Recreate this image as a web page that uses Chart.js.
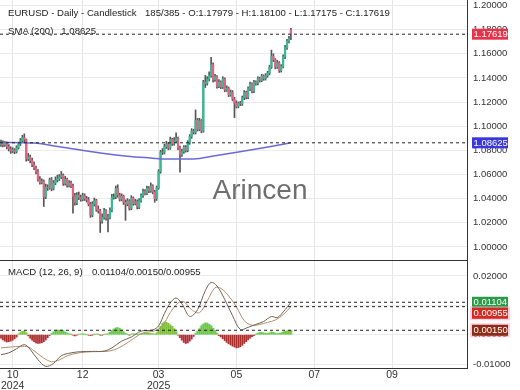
<!DOCTYPE html>
<html lang="en">
<head>
<meta charset="UTF-8" />
<title>EURUSD - Daily - Candlestick</title>
<script src="https://cdn.jsdelivr.net/npm/chart.js"></script>
<style>
  body { margin: 0; background: #fff; font-family: "Liberation Sans", Arial, sans-serif; }
  #wrap { position: relative; width: 520px; height: 390px; overflow: hidden; }
  #priceChart { position: absolute; left: 0; top: 0; }
  #macdChart { position: absolute; left: 0; top: 260px; }
  .txt { position: absolute; font-size: 9.6px; line-height: 12px; color: #222; white-space: pre; }
  #mark { position: absolute; left: 0; width: 520px; top: 174px; text-align: center; font-size: 28px; line-height: 32px; color: #6e6e6e; }
</style>
</head>
<body>
<div id="wrap">
  <canvas id="priceChart" width="520" height="260"></canvas>
  <canvas id="macdChart" width="520" height="130"></canvas>
  <div id="mark">Arincen</div>
  <div class="txt" id="t1" style="left:8px; top:7px;"></div>
  <div class="txt" id="t2" style="left:145px; top:7px;"></div>
  <div class="txt" id="t3" style="left:8px; top:25px;"></div>
  <div class="txt" id="t4" style="left:8px; top:266px;"></div>
  <div class="txt" id="t5" style="left:92px; top:266px;"></div>
</div>
<script>
  // ---- data ----
  const O = [
    1.0850,1.0862,1.0845,1.0858,1.0830,1.0812,1.0795,1.0803,1.0790,1.0822,
    1.0855,1.0880,1.0905,1.0890,1.0730,1.0745,1.0715,1.0680,1.0655,1.0625,
    1.0560,1.0535,1.0545,1.0415,1.0495,1.0490,1.0555,1.0485,1.0530,1.0555,
    1.0565,1.0580,1.0595,1.0525,1.0560,1.0510,1.0530,1.0505,1.0420,1.0365,
    1.0430,1.0410,1.0395,1.0425,1.0400,1.0390,1.0355,1.0265,1.0355,1.0385,
    1.0310,1.0300,1.0215,1.0245,1.0300,1.0240,1.0245,1.0305,1.0410,1.0415,
    1.0485,1.0430,1.0395,1.0420,1.0370,1.0355,1.0380,1.0320,1.0405,1.0360,
    1.0375,1.0330,1.0385,1.0425,1.0460,1.0445,1.0485,1.0465,1.0505,1.0455,
    1.0400,1.0490,1.0625,1.0785,1.0785,1.0830,1.0850,1.0820,1.0890,1.0855,
    1.0880,1.0900,1.0820,1.0765,1.0790,1.0825,1.0800,1.0865,1.0915,1.0960,
    1.0950,1.1050,1.0975,1.1045,1.0960,1.1365,1.1355,1.1390,1.1420,1.1510,
    1.1385,1.1410,1.1330,1.1365,1.1325,1.1390,1.1300,1.1315,1.1260,1.1280,
    1.1225,1.1190,1.1165,1.1190,1.1185,1.1235,1.1280,1.1240,1.1310,1.1350,
    1.1290,1.1365,1.1355,1.1395,1.1380,1.1415,1.1395,1.1420,1.1440,1.1490,
    1.1580,1.1550,1.1490,1.1525,1.1460,1.1495,1.1575,1.1650,1.1705,1.17979
  ];
  const H = [
    1.0885,1.0878,1.0872,1.0870,1.0848,1.0830,1.0822,1.0815,1.0838,1.0868,
    1.0898,1.0925,1.0937,1.0895,1.0775,1.0760,1.0735,1.0705,1.0670,1.0640,
    1.0582,1.0565,1.0555,1.0520,1.0515,1.0570,1.0575,1.0550,1.0580,1.0595,
    1.0600,1.0625,1.0605,1.0585,1.0570,1.0550,1.0545,1.0520,1.0445,1.0450,
    1.0455,1.0430,1.0445,1.0440,1.0420,1.0410,1.0370,1.0375,1.0405,1.0395,
    1.0340,1.0312,1.0275,1.0320,1.0310,1.0270,1.0325,1.0435,1.0440,1.0505,
    1.0515,1.0445,1.0440,1.0430,1.0390,1.0400,1.0392,1.0425,1.0415,1.0395,
    1.0390,1.0400,1.0440,1.0480,1.0475,1.0505,1.0500,1.0530,1.0515,1.0470,
    1.0505,1.0640,1.0800,1.0815,1.0850,1.0875,1.0865,1.0910,1.0900,1.0905,
    1.0945,1.0910,1.0835,1.0810,1.0840,1.0840,1.0880,1.0930,1.0980,1.0975,
    1.1135,1.1065,1.1065,1.1055,1.1380,1.1420,1.1410,1.1450,1.1570,1.1525,
    1.1430,1.1420,1.1385,1.1375,1.1410,1.1400,1.1335,1.1325,1.1300,1.1295,
    1.1240,1.1210,1.1200,1.1205,1.1250,1.1295,1.1290,1.1325,1.1365,1.1360,
    1.1380,1.1375,1.1410,1.1405,1.1430,1.1425,1.1435,1.1455,1.1505,1.1630,
    1.1600,1.1560,1.1545,1.1535,1.1510,1.1590,1.1670,1.1720,1.1745,1.18100
  ];
  const L = [
    1.0832,1.0828,1.0832,1.0812,1.0795,1.0775,1.0780,1.0772,1.0778,1.0810,
    1.0840,1.0868,1.0870,1.0710,1.0715,1.0695,1.0665,1.0640,1.0605,1.0545,
    1.0520,1.0522,1.0335,1.0400,1.0468,1.0478,1.0465,1.0472,1.0515,1.0538,
    1.0550,1.0565,1.0510,1.0512,1.0495,1.0498,1.0490,1.0280,1.0345,1.0350,
    1.0392,1.0378,1.0382,1.0385,1.0372,1.0340,1.0245,1.0250,1.0338,1.0295,
    1.0280,1.0120,1.0198,1.0230,1.0222,1.0125,1.0232,1.0290,1.0395,1.0400,
    1.0412,1.0380,1.0382,1.0352,1.0220,1.0340,1.0305,1.0308,1.0345,1.0348,
    1.0315,1.0318,1.0370,1.0410,1.0430,1.0432,1.0450,1.0452,1.0440,1.0370,
    1.0385,1.0478,1.0610,1.0765,1.0770,1.0815,1.0805,1.0808,1.0840,1.0842,
    1.0865,1.0805,1.0620,1.0750,1.0775,1.0785,1.0788,1.0850,1.0900,1.0935,
    1.0935,1.0960,1.0962,1.0945,1.0950,1.1320,1.1340,1.1375,1.1405,1.1365,
    1.1370,1.1315,1.1318,1.1310,1.1312,1.1285,1.1288,1.1245,1.1248,1.1210,
    1.1070,1.1150,1.1152,1.1170,1.1172,1.1220,1.1225,1.1228,1.1295,1.1275,
    1.1278,1.1340,1.1342,1.1365,1.1368,1.1380,1.1382,1.1405,1.1425,1.1478,
    1.1535,1.1475,1.1478,1.1445,1.1448,1.1482,1.1560,1.1635,1.1690,1.17175
  ];
  const C = [
    1.0862,1.0845,1.0858,1.0830,1.0812,1.0795,1.0803,1.0790,1.0822,1.0855,
    1.0880,1.0905,1.0890,1.0730,1.0745,1.0715,1.0680,1.0655,1.0625,1.0560,
    1.0535,1.0545,1.0415,1.0495,1.0490,1.0555,1.0485,1.0530,1.0555,1.0565,
    1.0580,1.0595,1.0525,1.0560,1.0510,1.0530,1.0505,1.0420,1.0365,1.0430,
    1.0410,1.0395,1.0425,1.0400,1.0390,1.0355,1.0265,1.0355,1.0385,1.0310,
    1.0300,1.0215,1.0245,1.0300,1.0240,1.0245,1.0305,1.0410,1.0415,1.0485,
    1.0430,1.0395,1.0420,1.0370,1.0355,1.0380,1.0320,1.0405,1.0360,1.0375,
    1.0330,1.0385,1.0425,1.0460,1.0445,1.0485,1.0465,1.0505,1.0455,1.0400,
    1.0490,1.0625,1.0785,1.0785,1.0830,1.0850,1.0820,1.0890,1.0855,1.0880,
    1.0900,1.0820,1.0765,1.0790,1.0825,1.0800,1.0865,1.0915,1.0960,1.0950,
    1.1050,1.0975,1.1045,1.0960,1.1365,1.1355,1.1390,1.1420,1.1510,1.1385,
    1.1410,1.1330,1.1365,1.1325,1.1390,1.1300,1.1315,1.1260,1.1280,1.1225,
    1.1190,1.1165,1.1190,1.1185,1.1235,1.1280,1.1240,1.1310,1.1350,1.1290,
    1.1365,1.1355,1.1395,1.1380,1.1415,1.1395,1.1420,1.1440,1.1490,1.1580,
    1.1550,1.1490,1.1525,1.1460,1.1495,1.1575,1.1650,1.1705,1.1725,1.17619
  ];

  // SMA(200) read at a few points along the line
  const smaIdx = [0, 17, 30, 51, 65, 77, 85, 99, 110, 122, 135, 149];
  const smaVal = [1.0866, 1.0860, 1.0830, 1.0778, 1.0752, 1.0737, 1.0728, 1.0728, 1.0755, 1.0786, 1.0822, 1.08625];

  // MACD (12,26,9)
  const macdIdx = [0,4,8,12,15,19,23,27,31,36,41,47,53,57,62,67,72,78,81,84,87,90,93,97,101,105,108,111,115,119,123,127,131,135,139,142,146,149];
  const macdVal = [-0.0068,-0.0062,-0.0048,-0.0034,-0.0050,-0.0085,-0.0108,-0.0098,-0.0072,-0.0062,
                   -0.0058,-0.0057,-0.0056,-0.0045,-0.0022,-0.0008,0.0012,0.0016,0.0030,0.0072,
                   0.0108,0.0125,0.0105,0.0062,0.0085,0.0150,0.0178,0.0166,0.0120,0.0065,
                   0.0018,0.0025,0.0035,0.0045,0.0062,0.0058,0.0085,0.01104];
  const sigIdx = [0,5,10,14,18,22,26,30,34,40,47,54,58,63,68,73,79,83,87,91,94,98,102,106,110,113,117,121,125,129,133,137,141,145,149];
  const sigVal = [-0.0045,-0.0042,-0.0040,-0.0042,-0.0060,-0.0080,-0.0092,-0.0086,-0.0072,-0.0062,
                  -0.0058,-0.0057,-0.0052,-0.0036,-0.0014,0.0006,0.0013,0.0030,0.0075,0.0108,
                  0.0112,0.0085,0.0075,0.0115,0.0160,0.0158,0.0132,0.0095,0.0048,0.0032,
                  0.0035,0.0042,0.0050,0.0068,0.00955];
  const hist = [
    -0.0012,-0.0018,-0.0022,-0.0025,-0.0024,-0.0022,-0.0019,-0.0014,-0.0008,0.0002,
    0.0007,0.0011,0.0012,0.0006,-0.0004,-0.0012,-0.0019,-0.0024,-0.0028,-0.0030,
    -0.0029,-0.0027,-0.0024,-0.0018,-0.0010,-0.0003,0.0004,0.0009,0.0013,0.0016,
    0.0015,0.0016,0.0013,0.0009,0.0005,0.0003,0.0001,-0.0002,-0.0004,-0.0002,
    0.0001,0.0002,0.0003,0.0002,0.0000,-0.0002,-0.0003,-0.0001,0.0001,0.0002,
    0.0001,-0.0001,-0.0002,0.0000,0.0002,0.0003,0.0008,0.0014,0.0019,0.0023,
    0.0024,0.0021,0.0016,0.0010,0.0004,0.0001,-0.0001,0.0002,0.0003,0.0002,
    0.0001,0.0002,0.0003,0.0004,0.0005,0.0006,0.0005,0.0004,0.0003,0.0002,
    0.0006,0.0015,0.0028,0.0038,0.0043,0.0042,0.0038,0.0033,0.0028,0.0020,
    0.0010,-0.0002,-0.0010,-0.0019,-0.0026,-0.0030,-0.0028,-0.0022,-0.0015,-0.0006,
    0.0005,0.0012,0.0020,0.0030,0.0036,0.0040,0.0039,0.0035,0.0030,0.0022,
    0.0014,0.0005,-0.0003,-0.0008,-0.0014,-0.0020,-0.0026,-0.0031,-0.0035,-0.0039,
    -0.0042,-0.0045,-0.0044,-0.0041,-0.0036,-0.0030,-0.0024,-0.0018,-0.0012,-0.0007,
    -0.0003,0.0002,0.0005,0.0007,0.0008,0.0006,0.0005,0.0004,0.0006,0.0009,
    0.0008,0.0005,0.0003,0.0004,0.0006,0.0009,0.0011,0.0013,0.0014,0.0015
  ];

  // axis ticks / labels
  const priceTicks = [1.00, 1.02, 1.04, 1.06, 1.08, 1.10, 1.12, 1.14, 1.16, 1.18, 1.20];
  const macdTicks = [0.02, 0.01, 0.00, -0.01];
  const xTickIdx = [6, 42, 81, 121, 161, 201];
  const xTickLabels = [['10', '2024'], '12', ['03', '2025'], '05', '07', '09'];

  // marker lines and readouts
  const lastBar = C.length - 1;
  const priceMarks = [C[lastBar], smaVal[smaVal.length - 1]];
  const priceMarkColors = ['#e5334b', '#3a38dc'];
  const macdMarks = [macdVal[macdVal.length - 1], sigVal[sigVal.length - 1], hist[lastBar]];
  const macdMarkColors = ['#2b9a47', '#d02c22', '#8e2b14'];

  const X_MIN = -0.5, X_MAX = 239.5;

  document.getElementById('t1').textContent = 'EURUSD - Daily - Candlestick';
  document.getElementById('t2').textContent = '185/385 - O:' + O[lastBar].toFixed(5) + ' - H:' + H[lastBar].toFixed(5) +
    ' - L:' + L[lastBar].toFixed(5) + ' - C:' + C[lastBar].toFixed(5);
  document.getElementById('t3').textContent = 'SMA (200)   ' + priceMarks[1].toFixed(5);
  document.getElementById('t4').textContent = 'MACD (12, 26, 9)';
  document.getElementById('t5').textContent = macdMarks[0].toFixed(5) + '/' + macdMarks[2].toFixed(5) + '/' + macdMarks[1].toFixed(5);

  Chart.defaults.font.family = '"Liberation Sans", Arial, sans-serif';
  Chart.defaults.animation = false;
  Chart.defaults.plugins.legend.display = false;
  Chart.defaults.plugins.tooltip.enabled = false;

  const idx = C.map((c, i) => i);

  function yFit(s) { s.width = 53; s.paddingTop = 0; s.paddingBottom = 0; }
  function dashed(v) {
    return { type: 'line', data: [{ x: X_MIN, y: v }, { x: X_MAX, y: v }], borderColor: '#222',
             borderWidth: 1, borderDash: [3, 3], pointRadius: 0, order: 0 };
  }

  // coloured value boxes on the right axis
  const boxPlugin = {
    id: 'boxes',
    afterDraw(chart, args, opts) {
      const { ctx, chartArea } = chart;
      const ys = chart.scales.y;
      let prevBottom = -Infinity;
      ctx.save();
      ctx.font = '9.5px "Liberation Sans", Arial, sans-serif';
      ctx.textBaseline = 'middle';
      opts.values.forEach((v, k) => {
        let py = ys.getPixelForValue(v);
        if (py - 5.5 < prevBottom) py = prevBottom + 5.5;
        const x0 = chartArea.right + 5;
        if (opts.halo && opts.halo[k]) {
          ctx.fillStyle = 'rgba(255,170,200,0.55)';
          ctx.fillRect(x0 - 2, py - 7, 40, 14);
        }
        ctx.fillStyle = opts.colors[k];
        ctx.fillRect(x0, py - 5.5, 36, 11);
        ctx.fillStyle = '#fff';
        ctx.fillText(v.toFixed(5), x0 + 1.5, py + 0.5);
        prevBottom = py + 5.5;
      });
      ctx.restore();
    }
  };
  const topLine = {
    id: 'topLine',
    afterDraw(chart, args, opts) {
      if (!opts.show) return;
      const { ctx, chartArea } = chart;
      ctx.save();
      ctx.strokeStyle = '#333';
      ctx.lineWidth = 1;
      ctx.beginPath();
      ctx.moveTo(chartArea.left, chartArea.top + 0.5);
      ctx.lineTo(chartArea.right, chartArea.top + 0.5);
      ctx.stroke();
      ctx.restore();
    }
  };

  const xBase = {
    type: 'linear', min: X_MIN, max: X_MAX, offset: false,
    afterBuildTicks: s => { s.ticks = xTickIdx.map(v => ({ value: v })); },
    grid: { color: '#e6e6e6', drawTicks: false, offset: false }
  };

  new Chart(document.getElementById('priceChart'), {
    data: {
      datasets: [
        dashed(priceMarks[0]),
        dashed(priceMarks[1]),
        { type: 'line', data: smaIdx.map((i, k) => ({ x: i, y: smaVal[k] })), borderColor: '#6a6ad6',
          borderWidth: 1.5, pointRadius: 0, cubicInterpolationMode: 'monotone', order: 1 },
        { type: 'bar', data: idx.map(i => ({ x: i, y: [O[i], C[i]] })), barThickness: 1.6, grouped: false,
          backgroundColor: idx.map(i => C[i] >= O[i] ? '#3bb896' : '#e06583'), order: 2 },
        { type: 'bar', data: idx.map(i => ({ x: i, y: [L[i], H[i]] })), barThickness: 1, grouped: false,
          backgroundColor: '#555', order: 3 }
      ]
    },
    options: {
      responsive: false,
      layout: { padding: 0 },
      plugins: { boxes: { values: priceMarks, colors: priceMarkColors }, topLine: { show: false } },
      scales: {
        x: Object.assign({}, xBase, {
          afterFit: s => { s.height = 0; s.paddingLeft = 0; s.paddingRight = 0; },
          ticks: { display: false },
          border: { display: false }
        }),
        y: {
          position: 'right', min: 0.9892, max: 1.2045, beginAtZero: false,
          afterBuildTicks: s => { s.ticks = priceTicks.map(v => ({ value: v })); },
          afterFit: yFit,
          ticks: { callback: v => v.toFixed(5), color: '#333', font: { size: 9.5 }, padding: 6 },
          grid: { color: '#ebebeb', drawTicks: false },
          border: { display: true, color: '#333' }
        }
      }
    },
    plugins: [boxPlugin, topLine]
  });

  new Chart(document.getElementById('macdChart'), {
    data: {
      datasets: [
        dashed(macdMarks[0]),
        dashed(macdMarks[1]),
        dashed(macdMarks[2]),
        { type: 'line', data: macdIdx.map((i, k) => ({ x: i, y: macdVal[k] })), borderColor: '#6e6252',
          borderWidth: 1, pointRadius: 0, tension: 0.35, order: 1 },
        { type: 'line', data: sigIdx.map((i, k) => ({ x: i, y: sigVal[k] })), borderColor: '#b58f6c',
          borderWidth: 1, pointRadius: 0, tension: 0.35, order: 2 },
        { type: 'bar', data: idx.map(i => ({ x: i, y: hist[i] })), barThickness: 1, grouped: false,
          backgroundColor: idx.map(i => hist[i] >= 0 ? '#7fbf3a' : '#a8302c'), order: 3 },
        { type: 'bar', data: idx.map(i => ({ x: i, y: hist[i] })), barThickness: 3, grouped: false,
          backgroundColor: idx.map(i => hist[i] >= 0 ? 'rgba(110,232,140,0.6)' : 'rgba(255,185,208,0.75)'), order: 4 }
      ]
    },
    options: {
      responsive: false,
      layout: { padding: 0 },
      plugins: { boxes: { values: macdMarks, colors: macdMarkColors, halo: [false, true, true] }, topLine: { show: true } },
      scales: {
        x: Object.assign({}, xBase, {
          afterFit: s => { s.height = 22; s.paddingLeft = 0; s.paddingRight = 0; },
          ticks: { callback: (v, i) => xTickLabels[i], autoSkip: false, maxRotation: 0, color: '#333',
                   font: { size: 10.5, lineHeight: 1.0 }, padding: 2 },
          border: { display: true, color: '#333' }
        }),
        y: {
          position: 'right', min: -0.01136, max: 0.02545,
          afterBuildTicks: s => { s.ticks = macdTicks.map(v => ({ value: v })); },
          afterFit: yFit,
          ticks: { callback: v => v.toFixed(5), color: '#333', font: { size: 9.5 }, padding: 6 },
          grid: { color: '#ebebeb', drawTicks: false },
          border: { display: true, color: '#333' }
        }
      }
    },
    plugins: [boxPlugin, topLine]
  });
</script>
</body>
</html>
